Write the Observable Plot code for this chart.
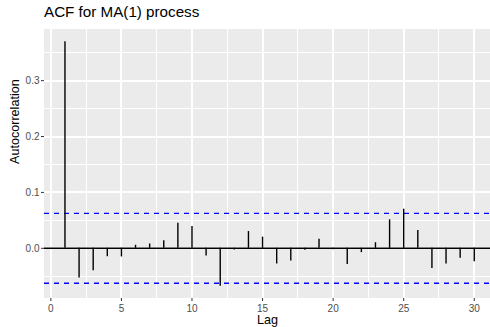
<!DOCTYPE html>
<html>
<head>
<meta charset="utf-8">
<script src="https://cdn.jsdelivr.net/npm/d3@7"></script>
<script src="https://cdn.jsdelivr.net/npm/@observablehq/plot@0.6"></script>
<style>
  body { margin: 0; background: #fff; font-family: "Liberation Sans", Arial, sans-serif; }
  #wrap { width: 490px; height: 327px; position: relative; overflow: hidden; }
  #title { position: absolute; left: 44px; top: 3px; font-size: 15.2px; color: #000; line-height: 18px; white-space: nowrap; }
  #chart { position: absolute; left: 0; top: 22px; }
</style>
</head>
<body>
<div id="wrap">
  <div id="title">ACF for MA(1) process</div>
  <div id="chart"></div>
</div>
<script>
const titleText = "ACF for MA(1) process";
const xLabel = "Lag";
const yLabel = "Autocorrelation";
const lags = [1,2,3,4,5,6,7,8,9,10,11,12,13,14,15,16,17,18,19,20,21,22,23,24,25,26,27,28,29,30];
const acf = [0.3696,-0.053,-0.040,-0.015,-0.0155,0.0054,0.0077,0.0137,0.045,0.039,
             -0.0137,-0.068,-0.003,0.030,0.020,-0.028,-0.0226,-0.0036,0.016,-0.0024,
             -0.029,-0.0077,0.010,0.051,0.070,0.032,-0.036,-0.028,-0.018,-0.024];
const ci = 0.0625;
const xTicks = [0,5,10,15,20,25,30];
const xMinor = [2.5,7.5,12.5,17.5,22.5,27.5];
const yTicks = [0,0.1,0.2,0.3];
const yMinor = [-0.05,0.05,0.15,0.25,0.35];

const data = lags.map((l,i) => ({lag: l, acf: acf[i]}));
const gridStyle = (w) => ({stroke: "white", strokeOpacity: 1, strokeWidth: w, shapeRendering: "crispEdges"});

const plot = Plot.plot({
  width: 490,
  height: 305,
  marginLeft: 44,
  marginRight: 0,
  marginTop: 7,
  marginBottom: 29,
  style: {fontFamily: "'Liberation Sans', Arial, sans-serif"},
  x: {domain: [-0.45, 31.15]},
  y: {domain: [-0.0898, 0.3915]},
  marks: [
    Plot.rect([0], {x1: -0.45, x2: 31.15, y1: -0.0898, y2: 0.3915, fill: "#EBEBEB"}),
    Plot.ruleX(xMinor, {x: d => d, ...gridStyle(1)}),
    Plot.ruleY(yMinor, {y: d => d, ...gridStyle(1)}),
    Plot.ruleX(xTicks, {x: d => d, ...gridStyle(2)}),
    Plot.ruleY(yTicks, {y: d => d, ...gridStyle(2)}),
    Plot.ruleY([0], {stroke: "#000", strokeWidth: 1.4}),
    Plot.ruleY([ci, -ci], {stroke: "#0000FF", strokeWidth: 1.3, strokeDasharray: "5,5"}),
    Plot.ruleX(data, {x: "lag", y1: 0, y2: "acf", stroke: "#000", strokeWidth: 1.4}),
    Plot.axisX(xTicks, {tickSize: 3, tickPadding: 3, fontSize: 10, stroke: "#333", fill: "#4D4D4D", label: null, tickFormat: d => String(d)}),
    Plot.axisY(yTicks, {tickSize: 3, tickPadding: 2, fontSize: 10, stroke: "#333", fill: "#4D4D4D", label: null, tickFormat: d => d.toFixed(1)}),
    Plot.text([xLabel], {frameAnchor: "bottom", dy: 25, fontSize: 12.6, fill: "#000", text: d => d}),
    Plot.text([yLabel], {frameAnchor: "left", dx: -30, rotate: -90, fontSize: 12.6, fill: "#000", text: d => d})
  ]
});
document.getElementById("chart").appendChild(plot);
</script>
</body>
</html>
